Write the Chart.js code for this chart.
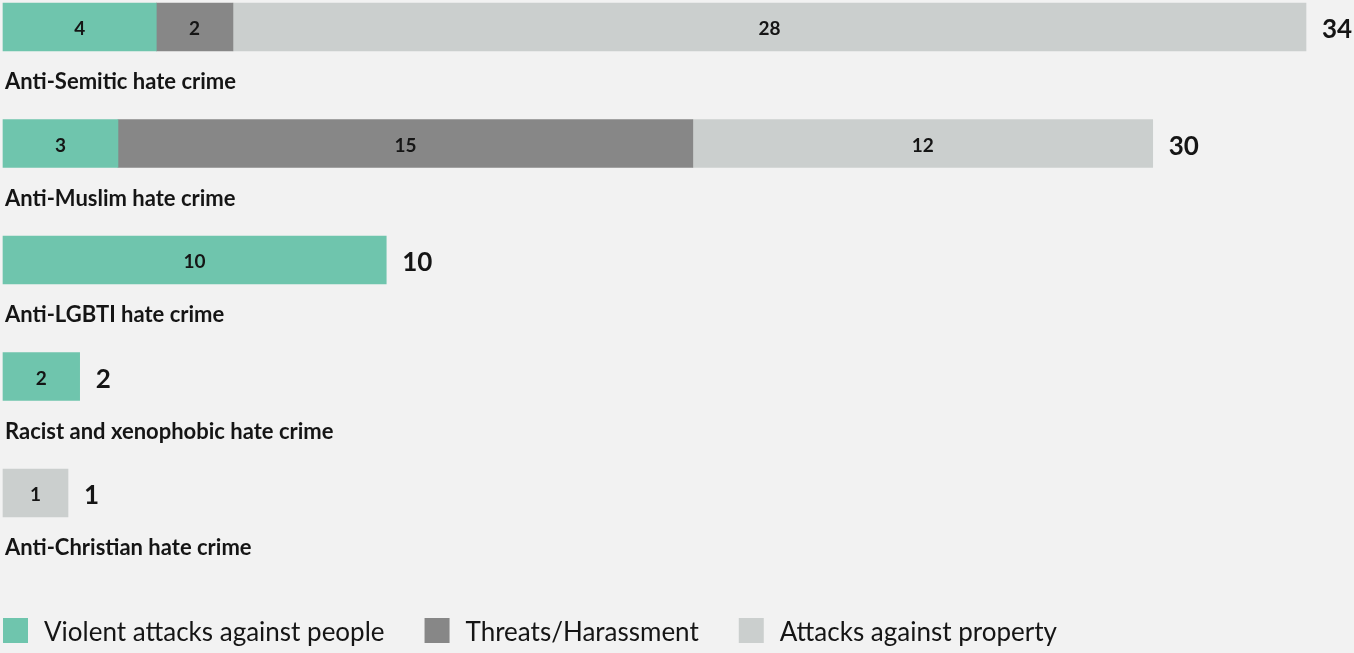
<!DOCTYPE html>
<html>
<head>
<meta charset="utf-8">
<script src="https://cdn.jsdelivr.net/npm/chart.js@4.4.0/dist/chart.umd.min.js"></script>
<style>
  html, body { margin: 0; padding: 0; background: #f2f2f2; }
  #wrap { width: 1354px; height: 653px; position: relative; }
</style>
</head>
<body>
<div id="wrap"><canvas id="c"></canvas></div>
<script>
const categories = [
  'Anti-Semitic hate crime',
  'Anti-Muslim hate crime',
  'Anti-LGBTI hate crime',
  'Racist and xenophobic hate crime',
  'Anti-Christian hate crime'
];
const seriesNames = ['Violent attacks against people', 'Threats/Harassment', 'Attacks against property'];
const violentAttacks = [4, 3, 10, 2, null];
const threatsHarassment = [2, 15, null, null, null];
const attacksProperty = [28, 12, null, null, 1];
const seriesColors = ['#6fc5ad', '#878787', '#cbcfce'];

const FONT = 'Lato, "Open Sans", sans-serif';

const bgPlugin = {
  id: 'bg',
  beforeDraw(chart) {
    const ctx = chart.ctx;
    ctx.save();
    ctx.fillStyle = '#f2f2f2';
    ctx.fillRect(0, 0, chart.width, chart.height);
    ctx.restore();
  }
};

const labelsPlugin = {
  id: 'labels',
  afterDatasetsDraw(chart) {
    const ctx = chart.ctx;
    const yScale = chart.scales.y;
    ctx.save();
    ctx.textBaseline = 'middle';
    // segment values
    ctx.textAlign = 'center';
    ctx.fillStyle = '#151515';
    ctx.font = 'bold 19px ' + FONT;
    chart.data.datasets.forEach((ds, di) => {
      const meta = chart.getDatasetMeta(di);
      meta.data.forEach((el, i) => {
        const v = ds.data[i];
        if (v === null || v === undefined) return;
        ctx.fillText(String(v), (el.x + el.base) / 2, el.y + 2);
      });
    });
    // totals
    ctx.textAlign = 'left';
    ctx.font = 'bold 26px ' + FONT;
    categories.forEach((c, i) => {
      let end = -Infinity, total = 0;
      chart.data.datasets.forEach((ds, di) => {
        const v = ds.data[i];
        if (v === null || v === undefined) return;
        total += v;
        const el = chart.getDatasetMeta(di).data[i];
        end = Math.max(end, el.x);
      });
      ctx.fillText(String(total), end + 16, yScale.getPixelForValue(i) + 3);
    });
    // category labels
    ctx.font = 'bold 22px ' + FONT;
    categories.forEach((c, i) => {
      ctx.fillText(c, 5, yScale.getPixelForValue(i) + 55);
    });
    // legend
    ctx.font = '26px ' + FONT;
    let x = chart.chartArea.left;
    const ly = 630.5;
    chart.data.datasets.forEach((ds) => {
      ctx.fillStyle = ds.backgroundColor;
      ctx.fillRect(x, ly - 12.5, 25, 25);
      ctx.fillStyle = '#151515';
      ctx.fillText(ds.label, x + 41, ly + 2);
      x += 41 + ctx.measureText(ds.label).width + 40;
    });
    ctx.restore();
  }
};

new Chart(document.getElementById('c'), {
  type: 'bar',
  data: {
    labels: categories,
    datasets: [
      { label: seriesNames[0], data: violentAttacks, backgroundColor: seriesColors[0] },
      { label: seriesNames[1], data: threatsHarassment, backgroundColor: seriesColors[1] },
      { label: seriesNames[2], data: attacksProperty, backgroundColor: seriesColors[2], minBarLength: 65 }
    ].map(d => Object.assign({ barThickness: 48, borderWidth: 0, clip: false }, d))
  },
  options: {
    indexAxis: 'y',
    responsive: true,
    maintainAspectRatio: false,
    animation: false,
    layout: { padding: { left: 3, right: 48, top: 27, bottom: 160 } },
    scales: {
      x: { stacked: true, min: 0, max: 34, display: false },
      y: { stacked: true, display: false, offset: false }
    },
    plugins: {
      legend: { display: false },
      tooltip: { enabled: false }
    }
  },
  plugins: [bgPlugin, labelsPlugin]
});
</script>
</body>
</html>
